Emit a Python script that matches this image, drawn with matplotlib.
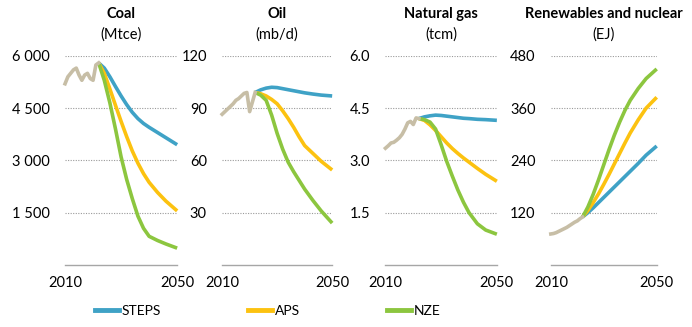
import matplotlib as mpl
import matplotlib.pyplot as plt
from matplotlib.lines import Line2D

mpl.rcParams['font.family'] = ['Lato', 'DejaVu Sans']

# historical years and projection years
hist_years = [2010, 2011, 2012, 2013, 2014, 2015, 2016, 2017, 2018, 2019, 2020, 2021, 2022]
proj_years = [2022, 2024, 2026, 2028, 2030, 2032, 2034, 2036, 2038, 2040, 2043, 2046, 2050]

# Coal (Mtce)
coal_hist = [5200, 5400, 5500, 5600, 5650, 5450, 5300, 5450, 5500, 5350, 5300, 5740, 5800]
coal_steps = [5800, 5650, 5400, 5120, 4850, 4600, 4380, 4200, 4060, 3950, 3800, 3650, 3450]
coal_aps = [5800, 5500, 5050, 4580, 4120, 3680, 3270, 2920, 2620, 2370, 2080, 1830, 1550]
coal_nze = [5800, 5300, 4650, 3900, 3100, 2450, 1900, 1400, 1050, 820, 700, 600, 480]

# Oil (mb/d)
oil_hist = [86.5, 88, 89.5, 91, 92.5, 94.5, 95.5, 97, 98.5, 99, 88, 93.5, 99]
oil_steps = [99, 100.5, 101.5, 102, 101.8, 101.2, 100.6, 100, 99.4, 98.8, 98.1, 97.5, 97]
oil_aps = [99, 98.3, 97, 95, 92.5, 88.5, 84, 79, 73.5, 68.5, 64, 59.5, 54.5]
oil_nze = [99, 97.5, 94.5, 86, 75.5, 66.5, 59, 53.5, 48.5, 43.5, 37, 31, 24]

# Natural gas (tcm)
gas_hist = [3.35, 3.42, 3.5, 3.52, 3.58, 3.65, 3.75, 3.9, 4.08, 4.12, 4.03, 4.22, 4.2]
gas_steps = [4.2, 4.25, 4.28, 4.3, 4.29, 4.27, 4.25, 4.23, 4.21, 4.2, 4.18, 4.17, 4.15]
gas_aps = [4.2, 4.15, 4.02, 3.86, 3.68, 3.5, 3.34, 3.2, 3.07, 2.95, 2.77, 2.6, 2.4]
gas_nze = [4.2, 4.17, 4.1, 3.9, 3.45, 2.97, 2.55, 2.15, 1.8, 1.5, 1.18, 1.0, 0.88]

# Renewables and nuclear (EJ)
ren_hist = [71, 72, 74, 77, 80, 83, 86, 90, 94, 98, 101, 106, 110]
ren_steps = [110, 120, 131, 143, 155, 167, 179, 191, 203, 215, 233, 252, 273]
ren_aps = [110, 125, 143, 163, 185, 208, 232, 256, 280, 303, 333, 360, 385]
ren_nze = [110, 133, 162, 195, 230, 265, 298, 328, 355, 378, 405, 428, 450]

titles = ['Coal', 'Oil', 'Natural gas', 'Renewables and nuclear']
units = ['(Mtce)', '(mb/d)', '(tcm)', '(EJ)']
yticks = [[1500, 3000, 4500, 6000], [30, 60, 90, 120], [1.5, 3.0, 4.5, 6.0], [120, 240, 360, 480]]
ylabels = [['1 500', '3 000', '4 500', '6 000'], ['30', '60', '90', '120'],
           ['1.5', '3.0', '4.5', '6.0'], ['120', '240', '360', '480']]
panels = [(coal_hist, coal_steps, coal_aps, coal_nze),
          (oil_hist, oil_steps, oil_aps, oil_nze),
          (gas_hist, gas_steps, gas_aps, gas_nze),
          (ren_hist, ren_steps, ren_aps, ren_nze)]

scenarios = ['STEPS', 'APS', 'NZE']
colors = ['#3FA2C6', '#FCC210', '#8CC63F']
hist_color = '#C7BEA6'

fig = plt.figure(figsize=(6.92, 3.27), dpi=100)
lefts = [0.094, 0.321, 0.557, 0.796]
widths = [0.162, 0.159, 0.161, 0.153]

for i in range(4):
    ax = fig.add_axes([lefts[i], 0.19, widths[i], 0.639])
    hist, steps, aps, nze = panels[i]
    for vals, c in zip([steps, aps, nze], colors):
        ax.plot(proj_years, vals, color=c, lw=2.6, clip_on=False, solid_capstyle='butt',
                solid_joinstyle='round', zorder=3)
    ax.plot(hist_years, hist, color=hist_color, lw=2.6, clip_on=False,
            solid_joinstyle='round', zorder=4)
    ax.set_xlim(2010, 2050)
    ax.set_ylim(0, yticks[i][-1])
    ax.set_yticks(yticks[i])
    ax.set_yticklabels(ylabels[i])
    ax.set_xticks([2010, 2050])
    ax.set_xticklabels(['2010', '2050'])
    ax.tick_params(axis='both', length=0, labelsize=10.5, colors='black')
    ax.tick_params(axis='y', pad=11)
    ax.tick_params(axis='x', pad=8)
    ax.grid(axis='y', linestyle=(0, (1, 1.3)), color='#9A9A9A', lw=0.8)
    for s in ['top', 'right', 'left']:
        ax.spines[s].set_visible(False)
    ax.spines['bottom'].set_color('#A6A6A6')
    ax.spines['bottom'].set_linewidth(1)
    ax.text(0.5, 1.2, titles[i], transform=ax.transAxes, ha='center', va='center',
            fontsize=10.5, fontweight='bold')
    ax.text(0.5, 1.1, units[i], transform=ax.transAxes, ha='center', va='center', fontsize=10.5)

handles = [Line2D([], [], color=c, lw=3.5) for c in colors]
fig.legend(handles, scenarios, loc='center', bbox_to_anchor=(0.387, 0.048), ncol=3,
           frameon=False, fontsize=10, handlelength=1.7, handletextpad=0.2,
           columnspacing=6.3)

fig.savefig('out.png', dpi=100)
